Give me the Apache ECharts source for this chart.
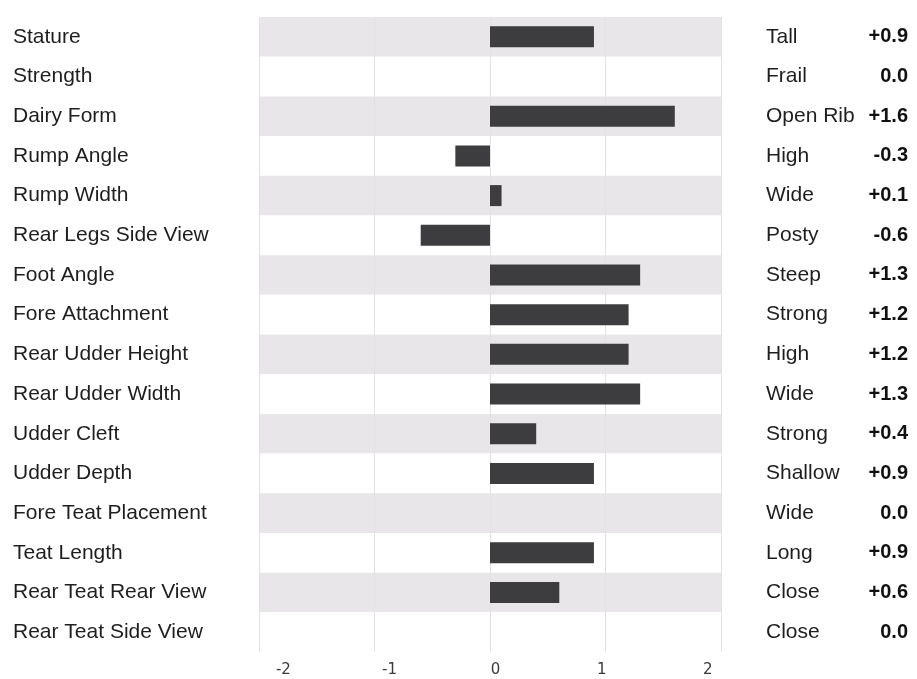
<!DOCTYPE html>
<html>
<head>
<meta charset="utf-8">
<script src="https://cdn.jsdelivr.net/npm/echarts@6/dist/echarts.min.js"></script>
<style>html,body{margin:0;padding:0;background:#fff}#c{width:917px;height:679px}</style>
</head>
<body>
<div id="c"></div>
<script>
const traits = ["Stature","Strength","Dairy Form","Rump Angle","Rump Width","Rear Legs Side View","Foot Angle","Fore Attachment","Rear Udder Height","Rear Udder Width","Udder Cleft","Udder Depth","Fore Teat Placement","Teat Length","Rear Teat Rear View","Rear Teat Side View"];
const descriptors = ["Tall","Frail","Open Rib","High","Wide","Posty","Steep","Strong","High","Wide","Strong","Shallow","Wide","Long","Close","Close"];
const values = [0.9,0.0,1.6,-0.3,0.1,-0.6,1.3,1.2,1.2,1.3,0.4,0.9,0.0,0.9,0.6,0.0];
const tickLabels = [-2,-1,0,1,2];

function fmt(v){ return (v>0?'+':'') + v.toFixed(1); }

const chart = echarts.init(document.getElementById('c'));
chart.setOption({
  animation:false,
  backgroundColor:'#fff',
  grid:{left:259,right:196,top:17,bottom:27},
  xAxis:[{
    type:'value', min:-2, max:2, interval:1,
    axisLine:{show:false}, axisTick:{show:false}, axisLabel:{show:false},
    splitLine:{show:true, lineStyle:{color:'#e2e2e2', width:1}}
  },{
    type:'value', position:'bottom', min:-2.23, max:2.125,
    axisLine:{show:false}, axisTick:{show:false}, splitLine:{show:false},
    axisLabel:{show:true, customValues:tickLabels, margin:11, fontFamily:'DejaVu Sans', fontSize:15, color:'#3a3a3a',
      formatter:v=>String(Math.round(v))}
  }],
  yAxis:[{
    type:'category', data:traits, inverse:true,
    axisLine:{show:false}, axisTick:{show:false}, splitLine:{show:false},
    splitArea:{show:true, areaStyle:{color:['#e9e6ea','#ffffff']}},
    axisLabel:{align:'left', margin:246, fontFamily:'Liberation Sans, Arial', fontSize:21, color:'#1e1e1e'}
  },{
    type:'category', data:descriptors, inverse:true, position:'right',
    axisLine:{show:false}, axisTick:{show:false}, splitLine:{show:false},
    axisLabel:{align:'left', margin:45, fontFamily:'Liberation Sans, Arial', fontSize:21, color:'#1e1e1e',
      formatter:(v,i)=>'{a|'+v+'}{b|'+fmt(values[i])+'}',
      rich:{a:{width:96, align:'left', fontSize:21, fontFamily:'Liberation Sans, Arial', color:'#1e1e1e'},
            b:{width:46, align:'right', fontSize:20, fontWeight:'bold', fontFamily:'Liberation Sans, Arial', color:'#111'}}}
  }],
  series:[{
    type:'bar', data:values, barWidth:21, xAxisIndex:0, yAxisIndex:0,
    itemStyle:{color:'#3d3d3f'}
  }]
});
</script>
</body>
</html>
